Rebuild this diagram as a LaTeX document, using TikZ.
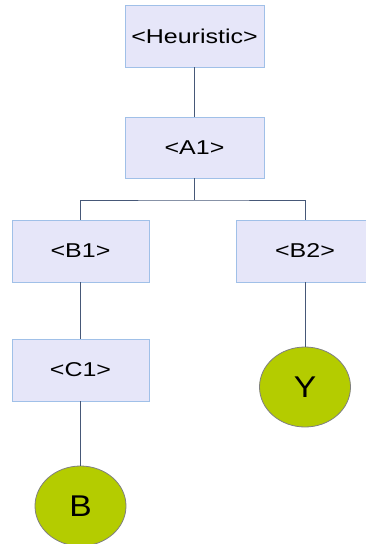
\documentclass[tikz,border=0pt]{standalone}
\usepackage{fontspec}
\setmainfont{Liberation Sans}
\usetikzlibrary{shapes.geometric}
\definecolor{boxfill}{RGB}{230,230,249}
\definecolor{boxline}{RGB}{160,192,232}
\definecolor{linkcol}{RGB}{70,88,120}
\definecolor{leaffill}{RGB}{180,204,0}
\definecolor{leafline}{RGB}{128,128,128}
\newcommand{\boxtxt}[1]{\scalebox{1.25}[1]{\fontsize{20}{24}\selectfont #1}}
\newcommand{\leaftxt}[1]{\scalebox{1.12}[1]{\fontsize{30}{36}\selectfont #1}}
\tikzset{
  tbox/.style={rectangle, draw=boxline, fill=boxfill, line width=0.8pt, inner sep=0pt},
  leaf/.style={ellipse, draw=leafline, fill=leaffill, line width=0.8pt, inner sep=0pt,
    minimum width=91pt, minimum height=80pt},
  link/.style={draw=linkcol, line width=0.9pt}
}
\begin{document}
\begin{tikzpicture}[x=1pt,y=-1pt]
\useasboundingbox (0,0) rectangle (366,544);
\node[tbox, minimum width=139pt, minimum height=62pt] (heur) at (194.5,36) {\boxtxt{<Heuristic>}};
\node[tbox, minimum width=139pt, minimum height=61pt] (a1) at (194.5,147.5) {\boxtxt{<A1>}};
\node[tbox, minimum width=137pt, minimum height=62pt] (b1) at (80.5,251) {\boxtxt{<B1>}};
\node[tbox, minimum width=138pt, minimum height=62pt] (b2) at (305,251) {\boxtxt{<B2>}};
\node[tbox, minimum width=137pt, minimum height=62pt] (c1) at (80.5,370) {\boxtxt{<C1>}};
\node[leaf] (y) at (305,387) {\leaftxt{Y}};
\node[leaf] (bb) at (80.5,506) {\leaftxt{B}};
\coordinate (j) at (194.5,200);
\draw[link] (heur.south) -- (a1.north);
\draw[link] (a1.south) -- (j);
\draw[link] (b1.north) |- (j) -| (b2.north);
\draw[link] (b1.south) -- (c1.north);
\draw[link] (c1.south) -- (bb.north);
\draw[link] (b2.south) -- (y.north);
\end{tikzpicture}
\end{document}
